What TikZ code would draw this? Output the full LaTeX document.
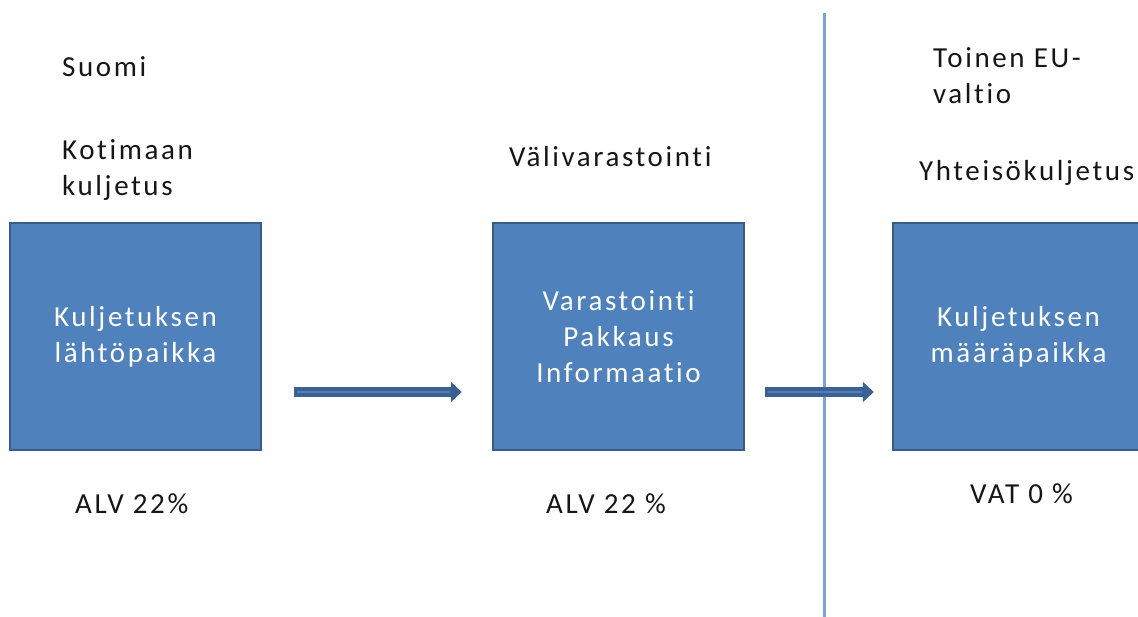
\documentclass[tikz,border=0pt]{standalone}
\usepackage{fontspec}
\setmainfont{Carlito}[LetterSpace=9,Ligatures={NoCommon}]
\usetikzlibrary{arrows.meta,calc}
\definecolor{boxfill}{HTML}{4F81BD}
\definecolor{boxline}{HTML}{385D8A}
\definecolor{arrowdark}{HTML}{3A6191}
\definecolor{divider}{HTML}{7BA3D3}
\definecolor{ink}{HTML}{161616}
\tikzset{
  stage/.style={draw=boxline, line width=2.5pt, fill=boxfill,
    minimum width=251pt, minimum height=227pt, inner sep=0pt,
    text=white, align=center, font=\fontsize{29}{36}\selectfont},
  caption/.style={anchor=base west, inner sep=0pt, text=ink, align=left,
    font=\fontsize{29}{36}\selectfont},
  flow/.style={line width=10pt, draw=arrowdark,
    -{Triangle[length=11pt,width=20pt]}},
  flowcore/.style={line width=2.5pt, draw=boxfill},
  border line/.style={draw=divider, line width=3pt}
}
\begin{document}
\begin{tikzpicture}[x=1pt,y=-1pt]
  \useasboundingbox (0,0) rectangle (1138,617);
  \clip (0,0) rectangle (1138,617);

  % border between the two countries
  \coordinate (divtop) at (824,13);
  \coordinate (divbot) at (824,620);
  \path[border line] (divtop) -- (divbot);

  % the three stages
  \node[stage] (orig) at (135.5,336.5) {Kuljetuksen\\lähtöpaikka};
  \node[stage] (mid)  at (618.5,336.5) {Varastointi\\Pakkaus\\Informaatio};
  \node[stage] (dest) at (1018.5,336.5) {Kuljetuksen\\määräpaikka};

  % headings (multi-line nodes sit on their last baseline)
  \node[caption] (country) at (62,77)  {Suomi};
  \node[caption] (domestic) at (62,196) {Kotimaan\\kuljetus};
  \node[caption] (storage) at (509,167) {Välivarastointi};
  \node[caption] (other) at (933,104) {Toinen EU-\\valtio};
  \node[caption] (intra) at (919,181) {Yhteisökuljetus};

  % tax rates
  \node[caption] (vat1) at (75,513)  {ALV 22\%};
  \node[caption] (vat2) at (546,513) {ALV 22 \%};
  \node[caption] (vat3) at (970,503) {VAT 0 \%};

  % flow arrows between the stages
  \coordinate (f1s) at ($(orig.east)+(32,55.5)$);
  \coordinate (f1e) at ($(mid.west)+(-30,55.5)$);
  \coordinate (f2s) at ($(mid.east)+(20,55.5)$);
  \coordinate (f2e) at ($(dest.west)+(-18,55.5)$);
  \draw[flow] (f1s) -- (f1e);
  \draw[flow] (f2s) -- (f2e);
  \draw[flowcore] ($(f1s)+(3,0)$) -- ($(f1e)+(-12,0)$);
  \draw[flowcore] ($(f2s)+(3,0)$) -- ($(f2e)+(-12,0)$);
\end{tikzpicture}
\end{document}
